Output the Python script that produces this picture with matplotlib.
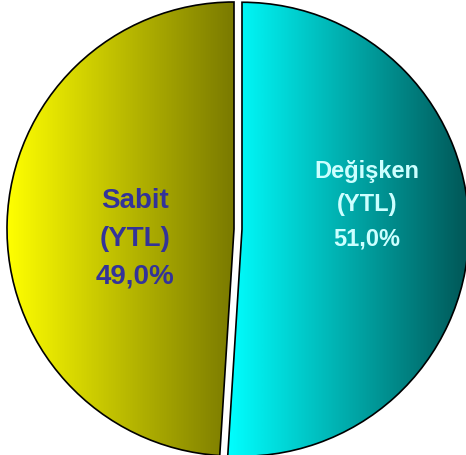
"""Fixed vs. floating share pie with horizontal gradient fills."""

import matplotlib
matplotlib.use("Agg")
import matplotlib.pyplot as plt
import numpy as np
from matplotlib.colors import LinearSegmentedColormap

labels = ["Değişken\n(YTL)", "Sabit\n(YTL)"]
shares = [51.0, 49.0]
explode = [8, 0]
grad_colors = [("#00ffff", "#005555"), ("#ffff00", "#7a7a00")]
text_colors = ["#ccffff", "#333399"]
text_sizes = [17, 20]
text_pos = [(367, 251), (135, 217)]

W, H = 466, 456
fig = plt.figure(figsize=(W / 100, H / 100), dpi=100)
ax = fig.add_axes([0, 0, 1, 1])

wedges, _ = ax.pie(
    shares,
    explode=explode,
    startangle=90,
    counterclock=False,
    radius=227,
    center=(234, 226),
    colors=["none", "none"],
    wedgeprops=dict(edgecolor="black", linewidth=1.2),
    frame=True,
)
ax.set_xlim(0, W)
ax.set_ylim(0, H)
ax.set_aspect("equal")
ax.axis("off")

# left-to-right gradient inside each wedge
grad = np.linspace(0, 1, 256).reshape(1, -1)
for w, (c0, c1) in zip(wedges, grad_colors):
    cmap = LinearSegmentedColormap.from_list("g", [c0, c1])
    y0 = w.center[1] - w.r
    ang = np.linspace(np.radians(w.theta1), np.radians(w.theta2), 200)
    xs = np.concatenate([[w.center[0]], w.center[0] + w.r * np.cos(ang)])
    im = ax.imshow(grad, cmap=cmap, aspect="auto", origin="lower",
                   extent=(xs.min(), xs.max(), y0, y0 + 2 * w.r), zorder=0)
    im.set_clip_path(w)

for lab, v, col, fs, (tx, ty) in zip(labels, shares, text_colors, text_sizes, text_pos):
    txt = f"{lab}\n{v:.1f}%".replace(".", ",")
    ax.text(tx, ty, txt, ha="center", va="center", color=col,
            fontsize=fs, fontweight="bold", family="Liberation Sans",
            linespacing=1.6)

fig.savefig("out.png", dpi=100)
